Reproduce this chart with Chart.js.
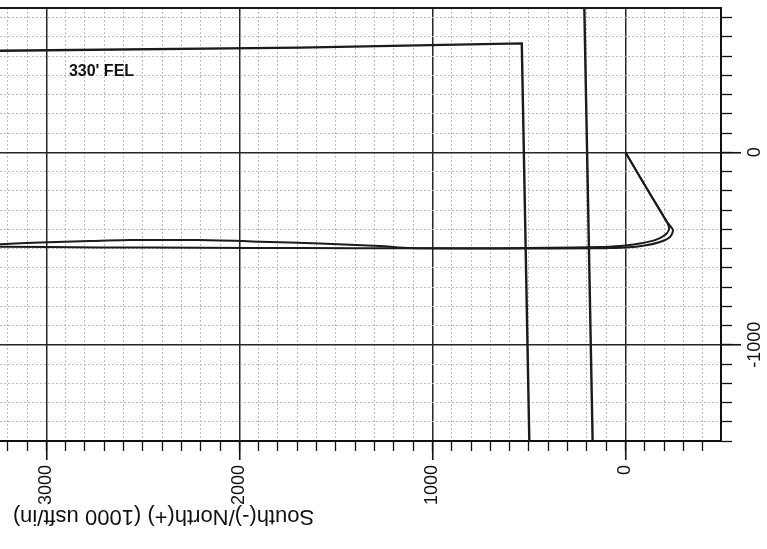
<!DOCTYPE html>
<html>
<head>
<meta charset="utf-8">
<script src="https://cdn.jsdelivr.net/npm/chart.js@4/dist/chart.umd.min.js"></script>
<style>
  html, body { margin: 0; padding: 0; background: #fff; }
  #c { display: block; }
</style>
</head>
<body>
<canvas id="c" width="767" height="549"></canvas>
<script>
// ---- data ----
const xTickLabels = [0, 1000, 2000, 3000];
const yTickLabels = [0, -1000];
const axisTitle = "South(-)/North(+) (1000 usft/in)";
const noteText = "330' FEL";

// well path A (inner at turn, upper line on the left)
const wellAX = [0, -106, -215, -226, -205, -153, -75, -3, 81, 132, 391, 650, 909, 1116, 1272, 1583, 1893, 2204, 2566, 2774, 3033, 3240];
const wellAY = [0, -180, -362, -399, -430, -456, -474, -484, -490, -492, -496, -498, -499, -497, -487, -474, -464, -456, -456, -461, -469, -477];

// well path B (outer at turn, lower line on the left)
const wellBX = [0, -106, -215, -246, -231, -179, -101, 0, 81, 132, 650, 1116, 1686, 2204, 2722, 3240];
const wellBY = [0, -180, -362, -404, -440, -466, -484, -495, -497, -499, -500, -499, -497, -496, -494, -491];

// lease / setback lines
const leaseX = [3240, 1686, 537, 498];
const leaseY = [528, 544, 566, -1500];
const line2X = [213, 170];
const line2Y = [750, -1500];

// note position (data units)
const noteX = 2883, noteY = 396;

// ---- helpers ----
const zip = (xs, ys) => xs.map((x, i) => ({ x: x, y: ys[i] }));
const FONT = "'Liberation Sans', Arial, Helvetica, sans-serif";
const X_MIN = -495, X_MAX = 3240, Y_MIN = -1500, Y_MAX = 750;

const decor = {
  id: 'decor',
  beforeDraw(chart) {
    const ctx = chart.ctx;
    ctx.save();
    ctx.fillStyle = '#ffffff';
    ctx.fillRect(0, 0, chart.width, chart.height);
    ctx.restore();
  },
  beforeDatasetsDraw(chart) {
    const ctx = chart.ctx, a = chart.chartArea;
    ctx.save();
    ctx.strokeStyle = '#1a1a1a';
    ctx.lineWidth = 2;
    ctx.beginPath();
    ctx.moveTo(a.left, a.top);
    ctx.lineTo(a.right + 1, a.top);
    ctx.stroke();
    ctx.restore();
  },
  afterDraw(chart) {
    const ctx = chart.ctx;
    const sx = chart.scales.x, sy = chart.scales.y;
    ctx.save();
    ctx.fillStyle = '#111';
    // right axis labels (rotated)
    ctx.font = '18px ' + FONT;
    ctx.textAlign = 'center';
    ctx.textBaseline = 'middle';
    yTickLabels.forEach(v => {
      const py = sy.getPixelForValue(v);
      ctx.save();
      ctx.translate(sy.right - 12, py);
      ctx.rotate(-Math.PI / 2);
      ctx.fillText(String(v), 0, 0);
      ctx.restore();
    });
    // axis title, upside down
    ctx.font = '22px ' + FONT;
    ctx.save();
    ctx.translate(163.5, 516);
    ctx.rotate(Math.PI);
    ctx.fillText(axisTitle, 0, 0);
    ctx.restore();
    // note
    ctx.font = 'bold 16px ' + FONT;
    ctx.textAlign = 'left';
    ctx.textBaseline = 'alphabetic';
    ctx.fillText(noteText, sx.getPixelForValue(noteX), sy.getPixelForValue(noteY));
    ctx.restore();
  }
};

const lineDs = (label, xs, ys, w) => ({
  label: label,
  data: zip(xs, ys),
  showLine: true,
  borderColor: '#1b1b1b',
  backgroundColor: '#1b1b1b',
  borderWidth: w,
  pointRadius: 0,
  tension: 0.25,
  fill: false,
  xAxisID: 'x',
  yAxisID: 'y'
});

const minorColor = (ctx, step) => (ctx.tick && Math.abs(ctx.tick.value % step) < 1e-6) ? 'rgba(0,0,0,0)' : '#bcbcbc';
const majorTicks = (vals) => (s) => { s.ticks = vals.map(v => ({ value: v })); };

new Chart(document.getElementById('c'), {
  type: 'scatter',
  data: {
    datasets: [
      Object.assign(lineDs('Lease line', leaseX, leaseY, 2.4), { tension: 0 }),
      Object.assign(lineDs('Line 2', line2X, line2Y, 2.4), { tension: 0 }),
      lineDs('Well A', wellAX, wellAY, 2),
      lineDs('Well B', wellBX, wellBY, 2)
    ]
  },
  options: {
    responsive: false,
    animation: false,
    layout: { padding: { top: 8, left: 0, right: 0, bottom: 0 } },
    plugins: { legend: { display: false }, tooltip: { enabled: false } },
    scales: {
      x: {
        type: 'linear', position: 'bottom', reverse: true, weight: 1,
        min: X_MIN, max: X_MAX,
        ticks: {
          stepSize: 100, includeBounds: false, autoSkip: false,
          minRotation: 90, maxRotation: 90, padding: 14,
          color: '#111', font: { size: 18, family: FONT },
          callback: (v) => xTickLabels.includes(v) ? String(v) : ''
        },
        grid: {
          color: (c) => minorColor(c, 1000), lineWidth: 1,
          tickLength: 10, tickColor: '#111', tickWidth: 1.3
        },
        border: { display: true, color: '#111', width: 2, dash: [2, 2] },
        afterFit(s) { s.height = 108; s.paddingLeft = 0; s.paddingRight = 0; }
      },
      x2: {
        type: 'linear', position: 'bottom', reverse: true, weight: 0,
        min: X_MIN, max: X_MAX,
        ticks: { display: false },
        afterBuildTicks: majorTicks(xTickLabels),
        grid: { color: '#262626', lineWidth: 1.5, tickLength: 19, tickColor: '#111', tickWidth: 1.6 },
        border: { display: false },
        afterFit(s) { s.height = 0; s.paddingLeft = 0; s.paddingRight = 0; }
      },
      y: {
        type: 'linear', position: 'right', weight: 1,
        min: Y_MIN, max: Y_MAX,
        ticks: { display: false, stepSize: 100, includeBounds: false },
        grid: {
          color: (c) => minorColor(c, 1000), lineWidth: 1,
          tickLength: 11, tickColor: '#111', tickWidth: 1.3
        },
        border: { display: true, color: '#111', width: 2, dash: [2, 2] },
        afterFit(s) { s.width = 46; s.paddingTop = 0; s.paddingBottom = 0; }
      },
      y2: {
        type: 'linear', position: 'right', weight: 0,
        min: Y_MIN, max: Y_MAX,
        ticks: { display: false },
        afterBuildTicks: majorTicks(yTickLabels),
        grid: { color: '#262626', lineWidth: 1.5, tickLength: 20, tickColor: '#111', tickWidth: 1.6 },
        border: { display: false },
        afterFit(s) { s.width = 0; s.paddingTop = 0; s.paddingBottom = 0; }
      }
    }
  },
  plugins: [decor]
});
</script>
</body>
</html>
